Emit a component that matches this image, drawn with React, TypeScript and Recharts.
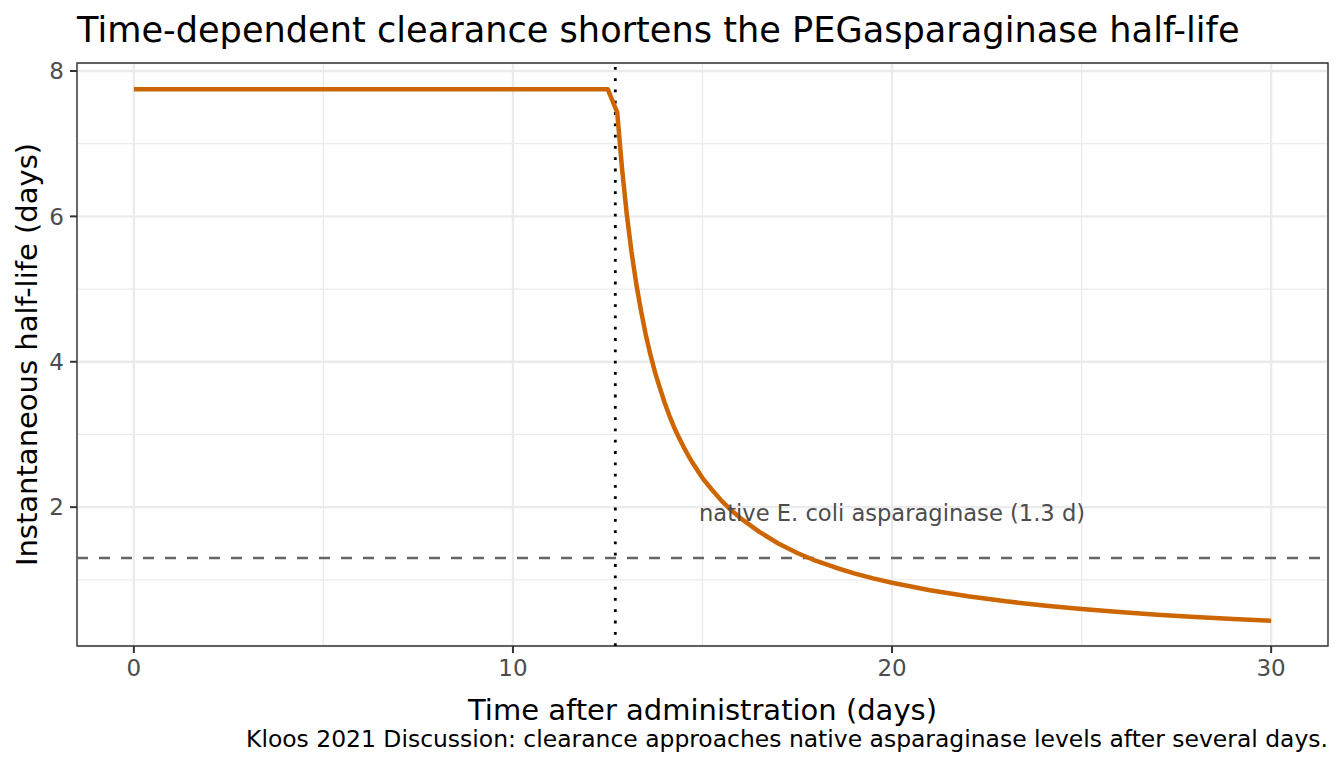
import React from 'react';
import {
  LineChart, Line, XAxis, YAxis, CartesianGrid,
  ReferenceLine, ReferenceArea, ReferenceDot
} from 'recharts';

// values
const timeDays = [
  0, 12.5, 12.75, 12.875, 13, 13.125, 13.25, 13.375, 13.5, 13.625, 13.75,
  13.875, 14, 14.125, 14.25, 14.375, 14.5, 14.625, 14.75, 15,
  15.25, 15.5, 15.75, 16, 16.5, 17, 17.5, 18, 18.5, 19, 19.5, 20,
  21, 22, 23, 24, 25, 26, 27, 28, 29, 30,
];
const halfLifeDays = [
  7.75, 7.75, 7.43, 6.67, 6.04, 5.52, 5.08, 4.71, 4.38, 4.1, 3.85,
  3.64, 3.44, 3.26, 3.1, 2.96, 2.83, 2.71, 2.6, 2.4,
  2.24, 2.09, 1.96, 1.85, 1.66, 1.5, 1.37, 1.26, 1.17, 1.09, 1.02, 0.96,
  0.857, 0.774, 0.705, 0.648, 0.6, 0.558, 0.521, 0.489, 0.461, 0.436,
];
const xMajorTicks = [0, 10, 20, 30];
const xMinorTicks = [5, 15, 25];
const yMajorTicks = [2, 4, 6, 8];
const yMinorTicks = [1, 3, 5, 7];
const nativeHalfLife = 1.3;
const onsetDay = 12.7;
const nativeLabel = 'native E. coli asparaginase (1.3 d)';

const data = timeDays.map((t, i) => ({ t, h: halfLifeDays[i] }));

const FONT = '"DejaVu Sans", sans-serif';
const X_DOMAIN: [number, number] = [-1.5, 31.5];
const Y_DOMAIN: [number, number] = [0.09, 8.11];

function NoteLabel(props: any) {
  const vb = props.viewBox || {};
  const cx = (vb.x ?? 0) + (vb.width ?? 0) / 2;
  const cy = (vb.y ?? 0) + (vb.height ?? 0) / 2;
  return (
    <text x={cx} y={cy + 7} textAnchor="middle" fill="#4D4D4D"
      fontSize={22.6} fontFamily={FONT}>
      {nativeLabel}
    </text>
  );
}

export default function App() {
  const tickStyle = { fill: '#4D4D4D', fontSize: 23, fontFamily: FONT };
  return (
    <div style={{ position: 'absolute', left: 0, top: 0, width: 1344, height: 768, background: '#fff' }}>
      <LineChart
        width={1344}
        height={768}
        data={data}
        margin={{ top: 63, right: 16, bottom: 0, left: 0 }}
      >
        <XAxis xAxisId="minor" dataKey="t" type="number" domain={X_DOMAIN}
          ticks={xMinorTicks} hide allowDataOverflow />
        <YAxis yAxisId="minor" type="number" domain={Y_DOMAIN}
          ticks={yMinorTicks} hide allowDataOverflow />
        <CartesianGrid xAxisId="minor" yAxisId="minor" stroke="#EBEBEB" strokeWidth={1.3} />
        <CartesianGrid stroke="#EBEBEB" strokeWidth={2.3} />
        <XAxis
          dataKey="t"
          type="number"
          domain={X_DOMAIN}
          ticks={xMajorTicks}
          allowDataOverflow
          height={122}
          axisLine={false}
          tickLine={{ stroke: '#333333', strokeWidth: 2 }}
          tickSize={7}
          tickMargin={7}
          tick={tickStyle}
        />
        <YAxis
          type="number"
          domain={Y_DOMAIN}
          ticks={yMajorTicks}
          allowDataOverflow
          width={77}
          axisLine={false}
          tickLine={{ stroke: '#333333', strokeWidth: 2 }}
          tickSize={7}
          tickMargin={6}
          tick={tickStyle}
        />
        <ReferenceLine y={nativeHalfLife} stroke="#666666" strokeWidth={2.6}
          strokeDasharray="11 11" />
        <ReferenceLine x={onsetDay} stroke="#000000" strokeWidth={2.8}
          strokeDasharray="2.8 8.5" />
        <Line
          type="linear"
          dataKey="h"
          stroke="#CD6600"
          strokeWidth={4.5}
          strokeLinejoin="round"
          dot={false}
          isAnimationActive={false}
        />
        <ReferenceDot x={20} y={1.9} r={0} stroke="none" fill="none"
          label={<NoteLabel />} />
        <ReferenceArea x1={X_DOMAIN[0]} x2={X_DOMAIN[1]} y1={Y_DOMAIN[0]} y2={Y_DOMAIN[1]}
          fill="none" fillOpacity={0} stroke="#333333" strokeWidth={1.4} />
      </LineChart>
      <svg width={1344} height={768}
        style={{ position: 'absolute', left: 0, top: 0, pointerEvents: 'none' }}>
        <text x={77} y={42} fontSize={35.15} fontFamily={FONT} fill="#000">
          Time-dependent clearance shortens the PEGasparaginase half-life
        </text>
        <text x={702.5} y={719.5} textAnchor="middle" fontSize={29} fontFamily={FONT} fill="#000">
          Time after administration (days)
        </text>
        <text transform="translate(37,354.5) rotate(-90)" textAnchor="middle"
          fontSize={29} fontFamily={FONT} fill="#000">
          Instantaneous half-life (days)
        </text>
        <text x={1328} y={747.3} textAnchor="end" fontSize={23.45} fontFamily={FONT} fill="#000">
          Kloos 2021 Discussion: clearance approaches native asparaginase levels after several days.
        </text>
      </svg>
    </div>
  );
}
